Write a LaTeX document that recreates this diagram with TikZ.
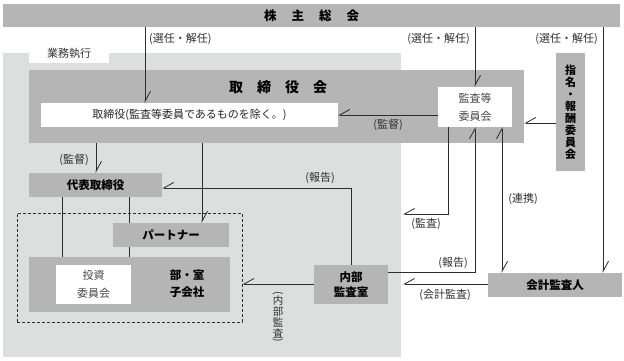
\documentclass[tikz,border=0pt]{standalone}
\usepackage{fontspec}
\setmainfont{Noto Sans CJK JP}
\usetikzlibrary{arrows.meta}
\definecolor{boxgray}{RGB}{181,181,181}
\definecolor{regiongray}{RGB}{221,222,222}
\definecolor{linegray}{RGB}{45,45,45}
\tikzset{
  box/.style={fill=boxgray,inner sep=0pt,font=\bfseries\fontsize{11.5}{13}\selectfont},
  wbox/.style={fill=white,inner sep=0pt,text=black!72,font=\fontsize{11}{18}\selectfont},
  lbl/.style={inner sep=0pt,text=black!82,font=\fontsize{11}{12}\selectfont},
  conn/.style={draw=linegray,line width=0.8pt},
  harp/.style={-{Straight Barb[harpoon,length=10pt,width=11pt]}},
  harpr/.style={-{Straight Barb[harpoon,swap,length=10pt,width=11pt]}},
  harpb/.style={{Straight Barb[harpoon,length=10pt,width=11pt]}-{Straight Barb[harpoon,length=10pt,width=11pt]}},
}
\begin{document}
\begin{tikzpicture}[x=1pt,y=-1pt]
\useasboundingbox (0,0) rectangle (624,361);
% areas and boxes
\node[fill=regiongray,inner sep=0pt,minimum width=398pt,minimum height=304pt] (exec) at (202,205) {};
\node[wbox,text=black!80,minimum width=80pt,minimum height=20pt] (tab) at (69,53) {業務執行};
\node[box,minimum width=617pt,minimum height=23pt,font=\bfseries\fontsize{12.5}{14}\selectfont] (gm) at (311.5,15.5) {株\hspace{15pt}主\hspace{15pt}総\hspace{15pt}会};
\node[box,minimum width=495pt,minimum height=73pt] (board) at (276.5,106.5) {};
\node[font=\bfseries\fontsize{14}{16}\selectfont,inner sep=0pt] (boardt) at (278,87) {取\hspace{14pt}締\hspace{14pt}役\hspace{14pt}会};
\node[wbox,text=black!85,minimum width=297pt,minimum height=24pt] (dirx) at (189.5,115) {取締役(監査等委員であるものを除く。)};
\node[wbox,minimum width=74pt,minimum height=40pt,align=center] (acm) at (475,107) {監査等\\委員会};
\node[box,minimum width=29pt,minimum height=118pt,align=center,font=\bfseries\fontsize{11}{12}\selectfont] (nom) at (570.5,112) {指\\名\\・\\報\\酬\\委\\員\\会};
\node[box,minimum width=133pt,minimum height=24pt] (rep) at (95.5,185) {代表取締役};
\node[draw=linegray,dash pattern=on 3pt off 2pt,line width=0.9pt,inner sep=0pt,minimum width=225pt,minimum height=109pt] (grp) at (129.5,267.5) {};
\node[box,minimum width=116pt,minimum height=24pt] (partner) at (171,235) {パートナー};
\node[box,minimum width=201pt,minimum height=55pt] (dept) at (129.5,284.5) {};
\node[font=\bfseries\fontsize{11.5}{17}\selectfont,align=center,inner sep=0pt] (deptt) at (187,284) {部・室\\子会社};
\node[wbox,minimum width=75pt,minimum height=39pt,align=center] (inv) at (93.5,284.5) {投資\\委員会};
\node[box,minimum width=74pt,minimum height=39pt,align=center,font=\bfseries\fontsize{11.5}{15}\selectfont] (ia) at (351,284.5) {内部\\監査室};
\node[box,minimum width=134pt,minimum height=24pt] (aud) at (555,285) {会計監査人};
% where the lines run
\coordinate (xa) at (145,0);
\coordinate (xc) at (603,0);
\coordinate (xd) at (96,0);
\coordinate (xe) at (202,0);
\coordinate (xf) at (448,0);
\coordinate (xg) at (502,0);
\coordinate (xh) at (62,0);
\coordinate (xi) at (129,0);
\coordinate (ya) at (0,123);
\coordinate (yb) at (0,115);
\coordinate (yc) at (0,188);
\coordinate (ye) at (0,272);
\coordinate (yf) at (0,284);
\coordinate (tipa) at (403,214);
\coordinate (tipb) at (403,284);
% connectors
\draw[conn,harp] (gm.south -| xa) -- (dirx.north -| xa);
\draw[conn,harp] (gm.south -| acm.north) -- (acm.north);
\draw[conn,harp] (gm.south -| xc) -- (aud.north -| xc);
\draw[conn,harpr] (nom.west |- ya) -- (board.east |- ya);
\draw[conn,harpr] (acm.west |- yb) -- (dirx.east |- yb);
\draw[conn,harp] (board.south -| xd) -- (rep.north -| xd);
\draw[conn,harp] (board.south -| xe) -- (partner.north -| xe);
\draw[conn,harpr] (ia.north) |- (rep.east |- yc);
\draw[conn,harpr] (acm.south -| xf) |- (tipa);
\draw[conn,harp] (ia.east |- ye) -| (acm.south);
\draw[conn,harpb] (acm.south -| xg) -- (aud.north -| xg);
\draw[conn,harpr] (ia.west |- yf) -- (grp.east |- yf);
\draw[conn,harpr] (aud.west |- yf) -- (tipb);
\draw[conn] (rep.south -| xh) -- (dept.north -| xh);
\draw[conn] (rep.south -| xi) -- (partner.north -| xi);
\draw[conn] (partner.south -| xi) -- (dept.north -| xi);
% labels
\node[lbl,anchor=west] (l1) at (149,39) {(選任・解任)};
\node[lbl,anchor=east] (l2) at (470,39) {(選任・解任)};
\node[lbl,anchor=east] (l3) at (598,39) {(選任・解任)};
\node[lbl] (l4) at (388,125) {(監督)};
\node[lbl] (l5) at (74,160) {(監督)};
\node[lbl] (l6) at (320,178) {(報告)};
\node[lbl] (l7) at (426,224) {(監査)};
\node[lbl] (l8) at (453,263) {(報告)};
\node[lbl] (l9) at (523,199) {(連携)};
\node[lbl] (l10) at (445,295) {(会計監査)};
\node[lbl,align=center,font=\fontsize{10.5}{11}\selectfont] (l11) at (278,318) {\rotatebox[origin=c]{-90}{(}\\[-4pt]内\\部\\監\\査\\[-4pt]\rotatebox[origin=c]{-90}{)}};
\end{tikzpicture}
\end{document}
